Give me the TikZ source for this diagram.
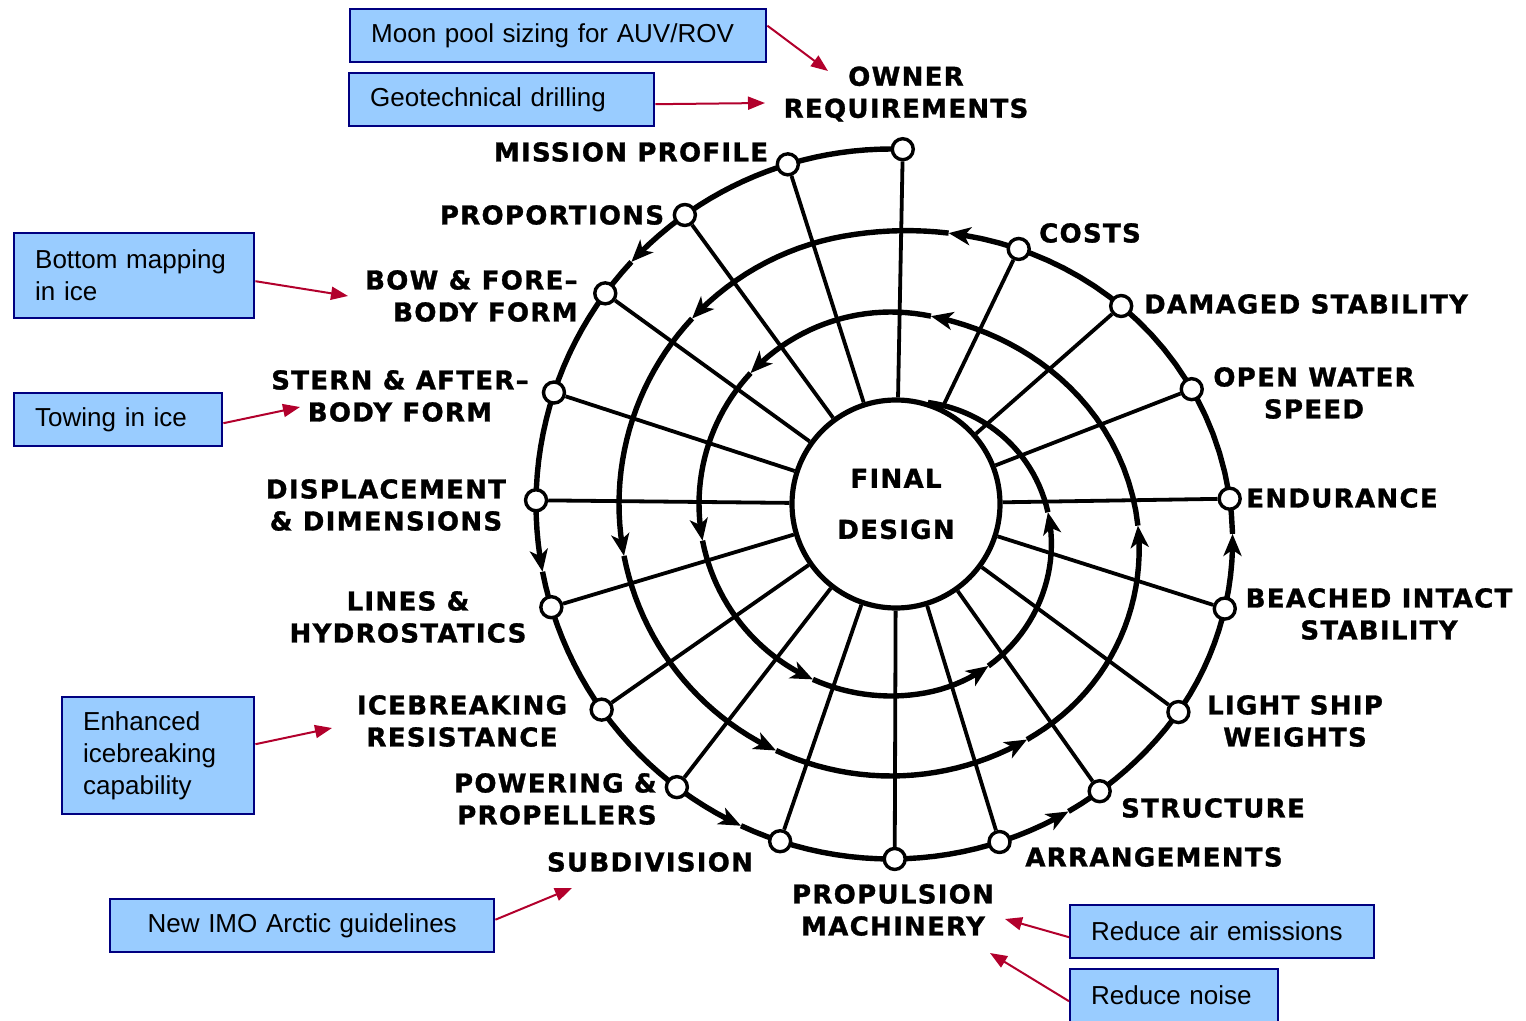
\documentclass[tikz,border=0pt]{standalone}
\usepackage{fontspec}
\usepackage{xcolor}
\usetikzlibrary{arrows.meta}

\newfontfamily\notefont{Liberation Sans}
\newfontfamily\leroyfont{DejaVu Sans}[LetterSpace=5,BoldFeatures={FakeBold=1.2}]

\definecolor{noteblue}{RGB}{153,204,255}
\definecolor{noteedge}{RGB}{0,0,128}
\definecolor{pointred}{RGB}{178,0,44}

\tikzset{
  spiral/.style={line width=2.7pt},
  spoke/.style={line width=1.9pt},
  dot/.style={circle,draw,fill=white,line width=1.7pt,minimum size=10.5pt,inner sep=0pt},
  lbl/.style={font=\leroyfont\bfseries\fontsize{13}{16}\selectfont,align=center,inner sep=0pt},
  note/.style={draw=noteedge,fill=noteblue,line width=1.2pt,anchor=north west,
    font=\notefont\fontsize{13}{16}\selectfont,align=left,inner xsep=10.5pt,inner ysep=0pt,
    minimum height=26.5pt},
  pointer/.style={draw=pointred,line width=1pt,-{Triangle[length=8.5pt,width=6.5pt]}}
}

\begin{document}
\begin{tikzpicture}[x=0.5pt,y=0.5pt,
  declare function={stp(\vv,\pp,\qq)=(1-cos(180*min(max((\vv-\pp)/(\qq-\pp),0),1)))/2;
    spr(\vv)=355-83*stp(\vv,320,460)-80*stp(\vv,665,800)-90*stp(\vv,1000,1180);}]
\useasboundingbox (0,0) rectangle (1526,-1021);

% Final design ring
\node[circle,draw,line width=2.6pt,minimum size=104pt,inner sep=0pt,lbl] (goal) at (896,-504) {FINAL\\[9.5pt]DESIGN};

% Spiral, arrow at the end of every piece
\begin{scope}[shift={(891,-504)}]
  \foreach \ta/\tb in {88/137,137/191,191/245,245/300,300/355,355/438,
      438/497,497/551,551/605,605/660,660/715,715/798,
      798/857,857/911,911/966,966/1021,1021/1077}
    \draw[spiral,-{Stealth[length=11pt,width=9pt,inset=3pt]}] plot[domain=\ta:\tb,samples=25] (\x:{spr(\x)});
  \draw[spiral] plot[domain=1077:1150,samples=30] (\x:{spr(\x)});

  % Stations on the outer turn
  \foreach \nm/\ang in {owner/88.1,mission/106.9,proport/125.5,bow/143.6,stern/161.7,
      displ/179.4,lines/196.9,icebrk/215.4,powering/232.9,subdiv/251.8,propuls/270.6,
      arrange/287.8,struct/306,lightship/324.1,beached/342.6,endur/360.9,
      openwater/380.9,damaged/400.7,costs/423.4}
    \node[dot] (\nm) at (\ang:{spr(\ang)}) {};
\end{scope}

% Spokes
\foreach \nm in {owner,mission,proport,bow,stern,displ,lines,icebrk,powering,subdiv,
    propuls,arrange,struct,lightship,beached,endur,openwater,damaged,costs}
  \draw[spoke] (\nm) -- (goal);

% Text Node
\node[lbl] (lblowner) at (906,-94) {OWNER\\REQUIREMENTS};
\node[lbl] (lblmission) at (631,-152) {MISSION PROFILE};
\node[lbl] (lblproport) at (552,-215) {PROPORTIONS};
\node[lbl,align=right,anchor=east] (lblbow) at (578,-296) {BOW \& FORE–\\BODY FORM};
\node[lbl] (lblstern) at (400,-396) {STERN \& AFTER–\\BODY FORM};
\node[lbl] (lbldispl) at (386,-505) {DISPLACEMENT\\\& DIMENSIONS};
\node[lbl] (lbllines) at (408,-617) {LINES \&\\HYDROSTATICS};
\node[lbl] (lblicebrk) at (462,-721) {ICEBREAKING\\RESISTANCE};
\node[lbl,align=right,anchor=east] (lblpowering) at (657,-799) {POWERING \&\\PROPELLERS};
\node[lbl] (lblsubdiv) at (650,-862) {SUBDIVISION};
\node[lbl] (lblpropuls) at (893,-910) {PROPULSION\\MACHINERY};
\node[lbl] (lblarrange) at (1154,-857) {ARRANGEMENTS};
\node[lbl] (lblstruct) at (1213,-808) {STRUCTURE};
\node[lbl] (lbllightship) at (1295,-721) {LIGHT SHIP\\WEIGHTS};
\node[lbl] (lblbeached) at (1379,-614) {BEACHED INTACT\\STABILITY};
\node[lbl] (lblendur) at (1342,-498) {ENDURANCE};
\node[lbl] (lblopenwater) at (1314,-393) {OPEN WATER\\SPEED};
\node[lbl] (lbldamaged) at (1306,-304) {DAMAGED STABILITY};
\node[lbl] (lblcosts) at (1090,-233) {COSTS};

% Blue notes
\node[note,text width=187pt] (moonpool) at (349,-8) {Moon pool sizing for AUV/ROV};
\node[note,text width=131.5pt] (geotech) at (348,-72) {Geotechnical drilling};
\node[note,text width=99pt,minimum height=42.5pt] (bottommap) at (13,-232) {Bottom mapping\\in ice};
\node[note,text width=83pt] (towing) at (13,-392) {Towing in ice};
\node[note,text width=75pt,minimum height=58.5pt] (enhanced) at (61,-696) {Enhanced\\icebreaking\\capability};
\node[note,text width=171pt,align=center] (imoguide) at (109,-898) {New IMO Arctic guidelines};
\node[note,text width=131pt] (airemis) at (1069,-904) {Reduce air emissions};
\node[note,text width=83pt] (noise) at (1069,-968) {Reduce noise};

% Red pointers
\coordinate (tipmoonpool) at (828,-71);
\coordinate (tipgeotech) at (765,-103);
\coordinate (tipbottommap) at (348,-296);
\coordinate (tiptowing) at (300,-407);
\coordinate (tipenhanced) at (332,-728);
\coordinate (tipimoguide) at (572,-888);
\coordinate (tipairemis) at (1005,-919);
\coordinate (tipnoise) at (990,-953);
\draw[pointer] ([yshift=5pt]moonpool.east) -- (tipmoonpool);
\draw[pointer] ([yshift=-2.25pt]geotech.east) -- (tipgeotech);
\draw[pointer] ([yshift=-2.75pt]bottommap.east) -- (tipbottommap);
\draw[pointer] ([yshift=-1.75pt]towing.east) -- (tiptowing);
\draw[pointer] ([yshift=5.75pt]enhanced.east) -- (tipenhanced);
\draw[pointer] ([yshift=3pt]imoguide.east) -- (tipimoguide);
\draw[pointer] ([yshift=-2.75pt]airemis.west) -- (tipairemis);
\draw[pointer] ([yshift=-2.75pt]noise.west) -- (tipnoise);

\end{tikzpicture}
\end{document}
